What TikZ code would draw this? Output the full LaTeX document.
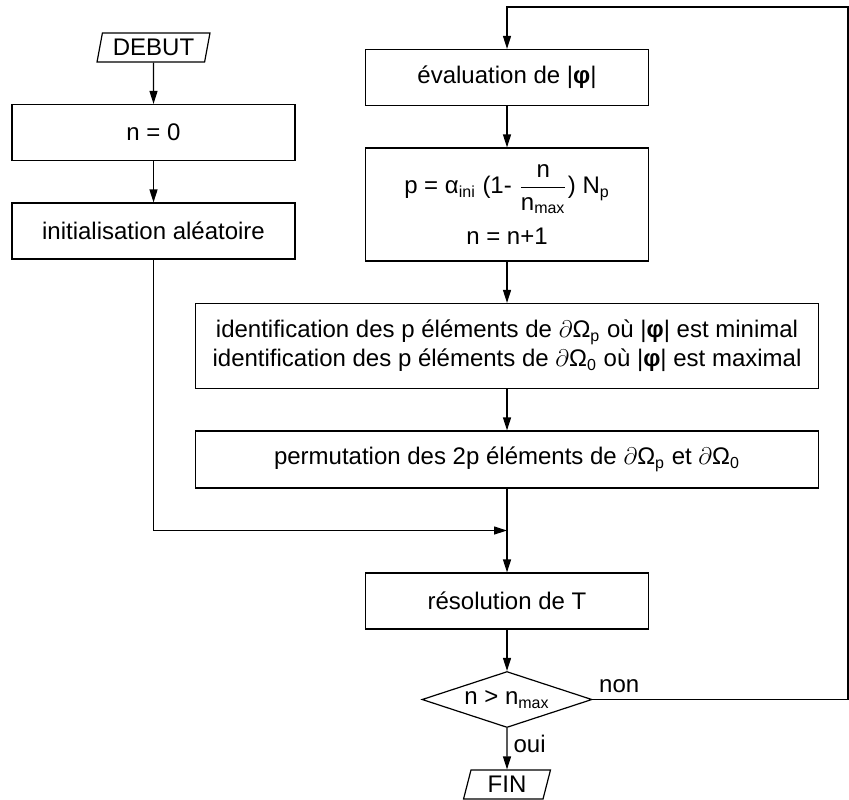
\documentclass[tikz,border=0pt]{standalone}
\usepackage{amsmath,amssymb}
\usepackage{fontspec}
\setmainfont{Liberation Sans}
\usetikzlibrary{arrows.meta,positioning,shapes.geometric,calc}

\begin{document}
\begin{tikzpicture}[
  x=0.5pt, y=0.5pt,
  font=\fontsize{12}{14.4}\selectfont,
  line width=0.6pt,
  node distance=20.65pt,
  flowbox/.style={draw, align=center, minimum width=141.5pt, minimum height=28pt, inner sep=2pt},
  widebox/.style={flowbox, minimum width=311.5pt},
  iobox/.style={draw, trapezium, trapezium left angle=75, trapezium right angle=105, trapezium stretches=true, minimum height=14.5pt, inner xsep=1pt, inner ysep=0pt},
  testbox/.style={draw, diamond, aspect=3, inner sep=0pt, minimum width=85pt, minimum height=28pt},
  lbl/.style={inner sep=3pt},
  arrow/.style={-{Triangle[length=6.5pt, width=4pt]}}
]
\useasboundingbox (0,0) rectangle (849,-799);
\node[iobox, minimum width=56.5pt] (debut) at (153.5,-47.5) {DEBUT};
\node[flowbox, below=of debut] (n0) {n = 0};
\node[flowbox, below=of n0] (init) {initialisation aléatoire};
\node[flowbox] (eval) at (507,-77.5) {évaluation de |\textbf{φ}|};
\node[flowbox, minimum height=56.5pt, below=of eval] (pval) {p = α\textsubscript{ini} (1- $\dfrac{\text{n}}{\text{n}_{\text{max}}}$) N\textsubscript{p}\\[6pt] n = n+1};
\node[widebox, minimum height=42.5pt, below=of pval] (ident) {identification des p éléments de $\partial$Ω\textsubscript{p} où |\textbf{φ}| est minimal\\identification des p éléments de $\partial$Ω\textsubscript{0} où |\textbf{φ}| est maximal};
\node[widebox, minimum height=28.5pt, below=of ident] (perm) {permutation des 2p éléments de $\partial$Ω\textsubscript{p} et $\partial$Ω\textsubscript{0}};
\node[flowbox, below=41.9pt of perm] (res) {résolution de T};
\node[testbox, below=of res] (test) {n > n\textsubscript{max}};
\node[iobox, minimum width=43.5pt, below=of test] (fin) {FIN};
\coordinate (join) at ($(perm.south)!0.5!(res.north)$);
\coordinate (loop) at (848,-7);
\node[lbl, anchor=south west] (non) at (test.east) {non};
\node[lbl, anchor=north west] (oui) at (test.south) {oui};
\draw[arrow] (debut) -- (n0);
\draw[arrow] (n0) -- (init);
\draw[arrow] (eval) -- (pval);
\draw[arrow] (pval) -- (ident);
\draw[arrow] (ident) -- (perm);
\draw[arrow] (perm) -- (res);
\draw[arrow] (init.south) |- (join);
\draw[arrow] (res) -- (test);
\draw[arrow] (test) -- (fin);
\draw[arrow] (test.east) -| (loop) -| (eval.north);
\end{tikzpicture}
\end{document}
